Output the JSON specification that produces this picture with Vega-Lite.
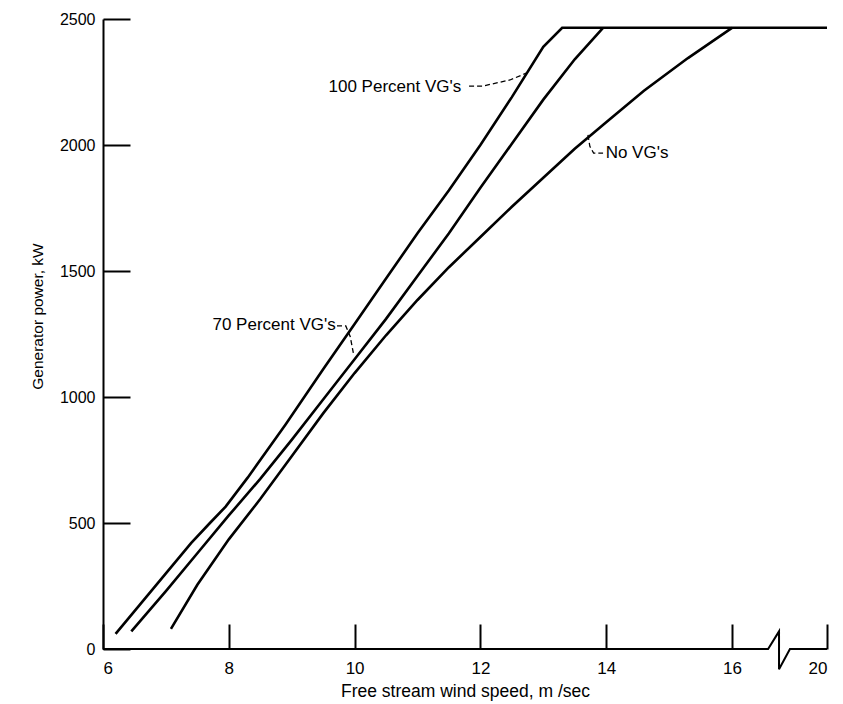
{
  "$schema": "https://vega.github.io/schema/vega-lite/v6.json",
  "width": 724,
  "height": 630,
  "autosize": {"type": "none"},
  "padding": {"left": 103, "top": 19, "right": 16, "bottom": 55},
  "background": "white",
  "config": {
    "view": {"stroke": null},
    "font": "Liberation Sans",
    "axis": {
      "grid": false,
      "labelFont": "Liberation Sans",
      "titleFont": "Liberation Sans",
      "labelColor": "black",
      "titleColor": "black",
      "titleFontWeight": "normal",
      "tickColor": "black",
      "domainColor": "black"
    }
  },
  "datasets": {
    "curves": [
      {"s": "A", "x": 6.2, "y": 60}, {"s": "A", "x": 6.6, "y": 180}, {"s": "A", "x": 7.0, "y": 300},
      {"s": "A", "x": 7.4, "y": 420}, {"s": "A", "x": 7.7, "y": 500}, {"s": "A", "x": 7.95, "y": 565},
      {"s": "A", "x": 8.3, "y": 680}, {"s": "A", "x": 8.9, "y": 890}, {"s": "A", "x": 9.5, "y": 1110},
      {"s": "A", "x": 10.0, "y": 1290}, {"s": "A", "x": 10.5, "y": 1470}, {"s": "A", "x": 11.0, "y": 1650},
      {"s": "A", "x": 11.5, "y": 1820}, {"s": "A", "x": 12.0, "y": 2000}, {"s": "A", "x": 12.5, "y": 2190},
      {"s": "A", "x": 13.0, "y": 2390}, {"s": "A", "x": 13.3, "y": 2465}, {"s": "A", "x": 20, "y": 2465},
      {"s": "B", "x": 6.45, "y": 70}, {"s": "B", "x": 7.0, "y": 230}, {"s": "B", "x": 7.5, "y": 380},
      {"s": "B", "x": 8.0, "y": 530}, {"s": "B", "x": 8.5, "y": 675}, {"s": "B", "x": 9.0, "y": 830},
      {"s": "B", "x": 9.5, "y": 990}, {"s": "B", "x": 10.0, "y": 1150}, {"s": "B", "x": 10.5, "y": 1310},
      {"s": "B", "x": 11.0, "y": 1480}, {"s": "B", "x": 11.5, "y": 1650}, {"s": "B", "x": 12.0, "y": 1830},
      {"s": "B", "x": 12.5, "y": 2005}, {"s": "B", "x": 13.0, "y": 2180}, {"s": "B", "x": 13.5, "y": 2340},
      {"s": "B", "x": 13.95, "y": 2465},
      {"s": "C", "x": 7.08, "y": 80}, {"s": "C", "x": 7.5, "y": 255}, {"s": "C", "x": 8.0, "y": 435},
      {"s": "C", "x": 8.5, "y": 595}, {"s": "C", "x": 9.0, "y": 765}, {"s": "C", "x": 9.5, "y": 935},
      {"s": "C", "x": 10.0, "y": 1095}, {"s": "C", "x": 10.5, "y": 1245}, {"s": "C", "x": 11.0, "y": 1385},
      {"s": "C", "x": 11.5, "y": 1515}, {"s": "C", "x": 12.0, "y": 1635}, {"s": "C", "x": 12.5, "y": 1755},
      {"s": "C", "x": 13.0, "y": 1870}, {"s": "C", "x": 13.5, "y": 1985}, {"s": "C", "x": 14.0, "y": 2090},
      {"s": "C", "x": 14.6, "y": 2215}, {"s": "C", "x": 15.3, "y": 2345}, {"s": "C", "x": 16.0, "y": 2465}
    ],
    "axisline": [
      {"o": 1, "x": 6, "y": 0}, {"o": 2, "x": 17.52, "y": 0}, {"o": 3, "x": 17.98, "y": 70},
      {"o": 4, "x": 17.98, "y": -80}, {"o": 5, "x": 18.44, "y": 0}, {"o": 6, "x": 20, "y": 0}
    ],
    "leaders": [
      {"g": "L1", "o": 1, "x": 11.82, "y": 2234}, {"g": "L1", "o": 2, "x": 12.04, "y": 2234},
      {"g": "L1", "o": 3, "x": 12.47, "y": 2258}, {"g": "L1", "o": 4, "x": 12.74, "y": 2286},
      {"g": "L2", "o": 1, "x": 9.72, "y": 1282}, {"g": "L2", "o": 2, "x": 9.86, "y": 1282},
      {"g": "L2", "o": 3, "x": 9.93, "y": 1240}, {"g": "L2", "o": 4, "x": 9.98, "y": 1175},
      {"g": "L3", "o": 1, "x": 13.71, "y": 2040}, {"g": "L3", "o": 2, "x": 13.74, "y": 1995},
      {"g": "L3", "o": 3, "x": 13.8, "y": 1968}, {"g": "L3", "o": 4, "x": 13.95, "y": 1968}
    ],
    "labels": [
      {"label": "100 Percent VG's", "x": 10.64, "y": 2230},
      {"label": "70 Percent VG's", "x": 8.72, "y": 1286},
      {"label": "No VG's", "x": 14.49, "y": 1968}
    ]
  },
  "layer": [
    {
      "data": {"name": "curves"},
      "mark": {"type": "line", "color": "black", "strokeWidth": 2.6},
      "encoding": {
        "x": {
          "field": "x", "type": "quantitative",
          "scale": {"domain": [6, 16, 20], "range": [0, 629, 724], "nice": false, "zero": false},
          "axis": {
            "values": [6, 8, 10, 12, 14, 16, 20],
            "format": "d",
            "domain": false,
            "tickSize": -25,
            "tickWidth": 2,
            "labelPadding": 36,
            "labelFontSize": 17,
            "title": "Free stream wind speed, m /sec",
            "titleFontSize": 17.5,
            "titleBaseline": "alphabetic",
            "titleY": 47
          }
        },
        "y": {
          "field": "y", "type": "quantitative",
          "scale": {"domain": [0, 2500], "nice": false},
          "axis": {
            "values": [0, 500, 1000, 1500, 2000, 2500],
            "format": "d",
            "domainWidth": 2,
            "tickSize": -27,
            "tickWidth": 2,
            "labelPadding": 35,
            "labelFontSize": 16,
            "title": "Generator power, kW",
            "titleFontSize": 15.5,
            "titleBaseline": "alphabetic",
            "titleX": -61,
            "titleY": 297
          }
        },
        "detail": {"field": "s"}
      }
    },
    {
      "data": {"name": "axisline"},
      "mark": {"type": "line", "color": "black", "strokeWidth": 2},
      "encoding": {
        "x": {"field": "x", "type": "quantitative"},
        "y": {"field": "y", "type": "quantitative"},
        "order": {"field": "o"}
      }
    },
    {
      "data": {"name": "leaders"},
      "mark": {"type": "line", "color": "black", "strokeWidth": 1.3, "strokeDash": [5, 3]},
      "encoding": {
        "x": {"field": "x", "type": "quantitative"},
        "y": {"field": "y", "type": "quantitative"},
        "detail": {"field": "g"},
        "order": {"field": "o"}
      }
    },
    {
      "data": {"name": "labels"},
      "mark": {"type": "text", "color": "black", "fontSize": 17, "font": "Liberation Sans", "align": "center", "baseline": "middle"},
      "encoding": {
        "x": {"field": "x", "type": "quantitative"},
        "y": {"field": "y", "type": "quantitative"},
        "text": {"field": "label"}
      }
    }
  ]
}
